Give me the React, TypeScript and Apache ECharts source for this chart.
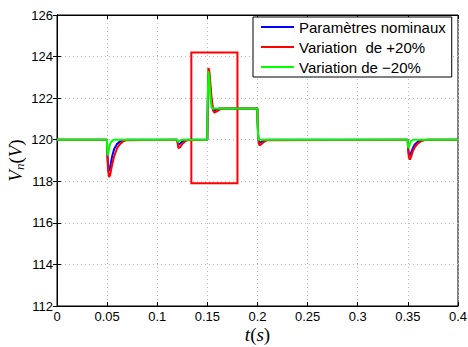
import React, { useEffect, useRef } from "react";
import * as echarts from "echarts";

const times = [
  0, 0.0499, 0.05, 0.0505, 0.051, 0.052, 0.053, 0.055, 0.057, 0.06, 0.063, 0.066, 0.07,
  0.1199, 0.12, 0.1205, 0.121, 0.123, 0.125, 0.128, 0.13,
  0.1499, 0.1505, 0.151, 0.152, 0.153, 0.154, 0.155, 0.156, 0.157, 0.159, 0.162, 0.165,
  0.1999, 0.2, 0.2005, 0.201, 0.202, 0.204, 0.207, 0.21,
  0.3499, 0.35, 0.3505, 0.351, 0.352, 0.353, 0.355, 0.357, 0.36, 0.363, 0.366, 0.37, 0.4,
];

const nominal = [
  120, 120, 119.7, 119.1, 118.7, 118.5, 118.7, 119.2, 119.55, 119.8, 119.92, 119.97, 120,
  120, 119.95, 119.85, 119.75, 119.82, 119.92, 119.98, 120,
  120, 122.0, 123.2, 123.0, 122.4, 121.9, 121.55, 121.4, 121.4, 121.47, 121.5, 121.5,
  121.5, 121.0, 120.4, 120.0, 119.85, 119.9, 119.97, 120,
  120, 119.8, 119.5, 119.3, 119.25, 119.35, 119.6, 119.78, 119.9, 119.96, 119.99, 120, 120,
];

const plus20 = [
  120, 120, 119.7, 119.0, 118.5, 118.2, 118.3, 118.8, 119.2, 119.6, 119.8, 119.92, 119.98,
  120, 119.95, 119.8, 119.6, 119.65, 119.8, 119.93, 119.98,
  120, 122.1, 123.45, 123.3, 122.7, 122.1, 121.7, 121.4, 121.3, 121.35, 121.45, 121.5,
  121.5, 121.0, 120.3, 119.9, 119.72, 119.8, 119.92, 119.98,
  120, 119.8, 119.4, 119.15, 119.05, 119.15, 119.45, 119.65, 119.82, 119.92, 119.97, 120, 120,
];

const minus20 = [
  120, 120, 119.6, 119.25, 119.3, 119.6, 119.8, 119.95, 120, 120, 120, 120, 120,
  120, 119.97, 119.9, 119.88, 119.96, 120, 120, 120,
  120, 122.2, 123.3, 122.9, 122.1, 121.6, 121.5, 121.5, 121.5, 121.5, 121.5, 121.5,
  121.5, 121.0, 120.3, 119.98, 120.0, 120, 120, 120,
  120, 119.75, 119.6, 119.65, 119.8, 119.92, 120, 120, 120, 120, 120, 120, 120,
];

const seriesNames = ["Paramètres nominaux", "Variation  de +20%", "Variation de \u221220%"];
const seriesColors = ["#0000ff", "#ff0000", "#00ff00"];
const zoomBox = [
  [0.134, 124.2],
  [0.18, 117.9],
];
const xTicks = { min: 0, max: 0.4, interval: 0.05 };
const yTicks = { min: 112, max: 126, interval: 2 };

export default function App() {
  const ref = useRef<HTMLDivElement>(null);
  useEffect(() => {
    document.body.style.margin = "0";
    const chart = echarts.init(ref.current!, undefined, { renderer: "svg" });
    const all = [nominal, plus20, minus20];
    const series: any[] = all.map((vals, i) => ({
      type: "line",
      name: seriesNames[i],
      data: times.map((t, j) => [t, vals[j]]),
      showSymbol: false,
      symbol: "none",
      lineStyle: { color: seriesColors[i], width: 2 },
      itemStyle: { color: seriesColors[i] },
      z: 3 + i,
      ...(i === 2
        ? {
            markArea: {
              silent: true,
              itemStyle: { color: "rgba(0,0,0,0)", borderColor: "#ff0000", borderWidth: 2 },
              data: [
                [
                  { xAxis: zoomBox[0][0], yAxis: zoomBox[0][1] },
                  { xAxis: zoomBox[1][0], yAxis: zoomBox[1][1] },
                ],
              ],
            },
          }
        : {}),
    }));
    const axisFont = { color: "#000", fontFamily: "Liberation Sans, Arial", fontSize: 13 };
    const serifI = { fontFamily: "Liberation Serif, serif", fontStyle: "italic", fontSize: 19, color: "#000" };
    const serifN = { fontFamily: "Liberation Serif, serif", fontStyle: "normal", fontSize: 19, color: "#000" };
    chart.setOption({
      animation: false,
      backgroundColor: "#fff",
      grid: {
        left: 57,
        right: 10,
        top: 15,
        bottom: 41,
        show: true,
        borderColor: "#000",
        borderWidth: 1,
        outerBoundsMode: "none",
        containLabel: false,
      },
      legend: {
        left: 253,
        top: 17,
        orient: "vertical",
        backgroundColor: "#fff",
        borderColor: "#000",
        borderWidth: 1,
        borderRadius: 0,
        padding: [0, 6, 0, 8],
        itemGap: 0,
        itemWidth: 33,
        itemHeight: 2,
        icon: "rect",
        textStyle: { fontFamily: "Liberation Sans, Arial", fontSize: 15, color: "#000", lineHeight: 20 },
        data: seriesNames.map((n, i) => ({ name: n, itemStyle: { color: seriesColors[i] } })),
      },
      xAxis: [
        {
          type: "value",
          ...xTicks,
          name: "{i|t}{n|(}{i|s}{n|)}",
          nameLocation: "middle",
          nameGap: 19,
          nameMoveOverlap: false,
          nameTextStyle: { rich: { i: serifI, n: serifN } },
          axisLine: { onZero: false, lineStyle: { color: "#000" } },
          axisTick: { inside: true, length: 4, lineStyle: { color: "#000" } },
          axisLabel: { ...axisFont, margin: 4, formatter: (v: number) => String(Math.round(v * 100) / 100) },
          splitLine: { show: true, lineStyle: { color: "#bbbbbb", type: [1, 3], width: 1 } },
        },
        {
          type: "value",
          ...xTicks,
          position: "top",
          axisLine: { show: true, lineStyle: { color: "#000" } },
          axisTick: { show: true, inside: true, length: 4, lineStyle: { color: "#000" } },
          axisLabel: { show: false },
          splitLine: { show: false },
        },
      ],
      yAxis: [
        {
          type: "value",
          ...yTicks,
          name: "{i|V}{s|n}{n|(}{i|V}{n|)}",
          nameLocation: "middle",
          nameGap: 31,
          nameMoveOverlap: false,
          nameRotate: 90,
          nameTextStyle: {
            color: "#000",
            rich: {
              i: serifI,
              n: serifN,
              s: { fontFamily: "Liberation Serif, serif", fontStyle: "italic", fontSize: 13, color: "#000", padding: [9, 0, 0, 0] },
            },
          },
          axisLine: { show: true, onZero: false, lineStyle: { color: "#000" } },
          axisTick: { show: true, inside: true, length: 4, lineStyle: { color: "#000" } },
          axisLabel: { ...axisFont, margin: 4 },
          splitLine: { show: true, lineStyle: { color: "#bbbbbb", type: [1, 3], width: 1 } },
        },
        {
          type: "value",
          ...yTicks,
          position: "right",
          axisLine: { show: true, lineStyle: { color: "#000" } },
          axisTick: { show: true, inside: true, length: 4, lineStyle: { color: "#000" } },
          axisLabel: { show: false },
          splitLine: { show: false },
        },
      ],
      series,
    });
    return () => chart.dispose();
  }, []);
  return <div ref={ref} style={{ width: 468, height: 347 }} />;
}
